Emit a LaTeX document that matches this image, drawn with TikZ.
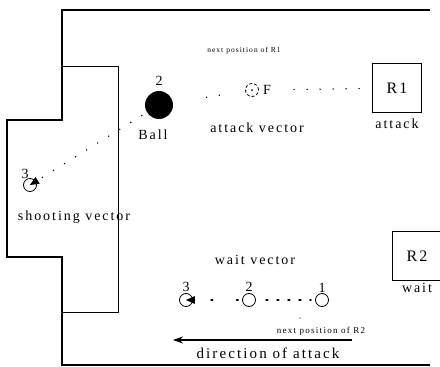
\documentclass[tikz,border=0pt]{standalone}
\usepackage{fontspec}
\setmainfont{Liberation Serif}
\newfontfamily\fieldfont[LetterSpace=14]{Liberation Serif}
\usetikzlibrary{arrows.meta,positioning}

\begin{document}
\begin{tikzpicture}[
    x=1pt, y=-1pt,
    field/.style={line width=2.5pt},
    area/.style={line width=0.9pt},
    robot/.style={rectangle, draw, line width=1pt, minimum width=49pt,
                  minimum height=49pt, font=\fontsize{16}{18}\fieldfont},
    player/.style={circle, draw, line width=0.8pt, minimum size=13pt, inner sep=0pt},
    lbl/.style={font=\fontsize{14}{16}\fieldfont, inner sep=1pt},
    note/.style={font=\fontsize{7.5}{9}\fieldfont, inner sep=1pt},
    vec/.style={line width=1.6pt, line cap=round, dash pattern=on 0pt off 13pt},
    headin/.style={-{Triangle[length=9pt,width=8pt,line width=0pt]}, shorten >=-7pt},
    arrow/.style={-{Stealth[length=10pt,width=7pt]}, line width=1.1pt}
]

\useasboundingbox (0,0) rectangle (440,367);

% field boundary and penalty area
\draw[field] (430,10) -- (62,10) -- (62,120) -- (7,120) -- (7,257)
    -- (62,257) -- (62,365) -- (430,365);
\draw[area] (62,66) -- (118,66) -- (118,312) -- (62,312);

% ball
\node[circle, fill=black, minimum size=28pt, inner sep=0pt] (ball) at (159,105) {};
\node[lbl, above=4pt of ball] (ballnum) {2};
\node[lbl] (balltxt) at (153,135) {Ball};

% robots
\node[robot] (r1) at (397,88) {R1};
\node[lbl, below=5pt of r1] (r1txt) {attack};
\node[robot] (r2) at (417,256) {R2};
\node[lbl, below=1pt of r2] (r2txt) {wait};

% attack vector
\node[player, densely dashed] (a1) at (252,90) {};
\fill (a1.center) circle (1pt);
\node[lbl, right=3pt of a1] (a1F) {F};
\node[note] (a1note) at (244,51) {next position of R1};
\node[lbl] (atttxt) at (257,128) {attack vector};
\draw[vec, shorten <=34pt, shorten >=16pt] (ball) -- (a1);
\draw[vec, shorten <=22pt, shorten >=8pt] (a1F) -- (r1);

% shooting vector
\node[player] (s3) at (30,185) {};
\node[lbl, above=0pt of s3.north west] (s3num) {3};
\node[lbl] (shoottxt) at (74,217) {shooting vector};
\draw[vec, headin, shorten <=6pt] (ball) -- (s3);

% wait vector
\node[player] (w3) at (186,300) {};
\node[player] (w2) at (249,300) {};
\node[player] (w1) at (322,300) {};
\node[lbl, above=0pt of w3] (w3num) {3};
\node[lbl, above=0pt of w2] (w2num) {2};
\node[lbl, above=-1pt of w1] (w1num) {1};
\node[lbl] (waittxt) at (255,260) {wait vector};
\draw[vec, headin, shorten <=4pt, dash pattern=on 1.5pt off 24pt] (w2) -- (w3);
\draw[vec, line width=1.1pt, dash pattern=on 2pt off 9pt, shorten <=10pt, shorten >=4pt] (w2) -- (w1);
\node[note, font=\fontsize{9}{10}\fieldfont] (w1note) at (321,331) {next position of R2};
\fill (300,318) circle (0.7pt);

% direction of attack
\coordinate (dirR) at (352,340);
\coordinate (dirL) at (173,340);
\draw[arrow] (dirR) -- (dirL);
\node[lbl, font=\fontsize{15}{17}\fieldfont] (dirtxt) at (268,353) {direction of attack};

\end{tikzpicture}
\end{document}
